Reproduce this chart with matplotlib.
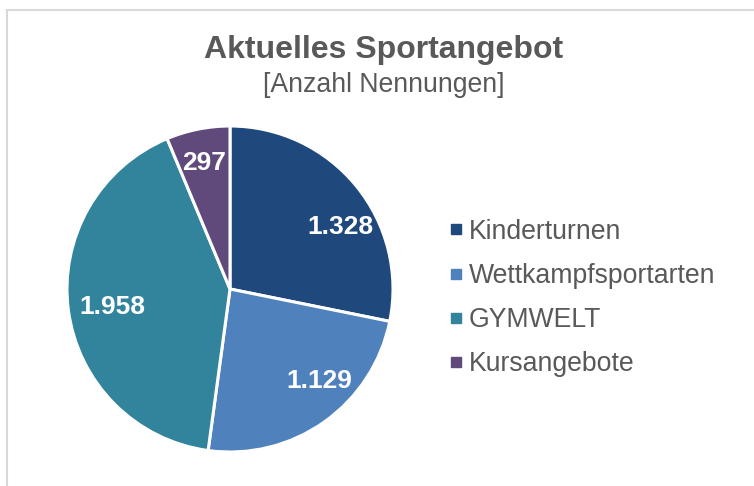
import matplotlib
matplotlib.use("Agg")
import matplotlib.pyplot as plt
from matplotlib.lines import Line2D
from matplotlib.patches import Rectangle

categories = ["Kinderturnen", "Wettkampfsportarten", "GYMWELT", "Kursangebote"]
values = [1328, 1129, 1958, 297]
colors = ["#1F497D", "#4F81BD", "#31849B", "#604A7B"]

title = "Aktuelles Sportangebot"
subtitle = "[Anzahl Nennungen]"

# label anchor offsets (in pie-radius units)
label_pos = [(0.675, 0.38), (0.55, -0.565), (-0.72, -0.11), (-0.16, 0.77)]

TXT = "#595959"
plt.rcParams['font.family'] = ['Liberation Sans', 'DejaVu Sans']

fig = plt.figure(figsize=(7.54, 4.86), dpi=100)
W, H = 754, 486

# chart border (only top and left visible)
fig.patches.append(Rectangle((7 / W, -0.2), 1.2, (H - 10) / H + 0.2,
                             transform=fig.transFigure, fill=False,
                             edgecolor="#D9D9D9", linewidth=1.5))

cx, cy, r = 230, H - 289, 163
ax = fig.add_axes([(cx - r) / W, (cy - r) / H, 2 * r / W, 2 * r / H])
wedges, _ = ax.pie(values, colors=colors, startangle=90, counterclock=False,
                   wedgeprops=dict(edgecolor="white", linewidth=2.2))
for w in wedges:
    w.set_clip_on(False)
ax.set_xlim(-1, 1)
ax.set_ylim(-1, 1)
ax.set_aspect("equal")
ax.axis("off")

for v, (dx, dy) in zip(values, label_pos):
    ax.text(dx, dy, f"{v:,}".replace(",", "."), ha="center", va="center",
            color="white", fontsize=19, fontweight="bold")

fig.text(384 / W, 1 - 50 / H, title, ha="center", va="center",
         fontsize=23, fontweight="bold", color=TXT)
fig.text(384 / W, 1 - 85 / H, subtitle, ha="center", va="center",
         fontsize=19.2, color=TXT)

handles = [Line2D([], [], linestyle="none", marker="s", markersize=6.5,
                  markerfacecolor=c, markeredgecolor=c) for c in colors]
leg = fig.legend(handles, categories, loc="center left",
                 bbox_to_anchor=(450 / W, 1 - 298 / H), frameon=False,
                 fontsize=19.2, handlelength=0.45, handletextpad=0.25,
                 labelspacing=0.68, borderpad=0, borderaxespad=0)
for t in leg.get_texts():
    t.set_color(TXT)

fig.savefig("out.png", dpi=100)
